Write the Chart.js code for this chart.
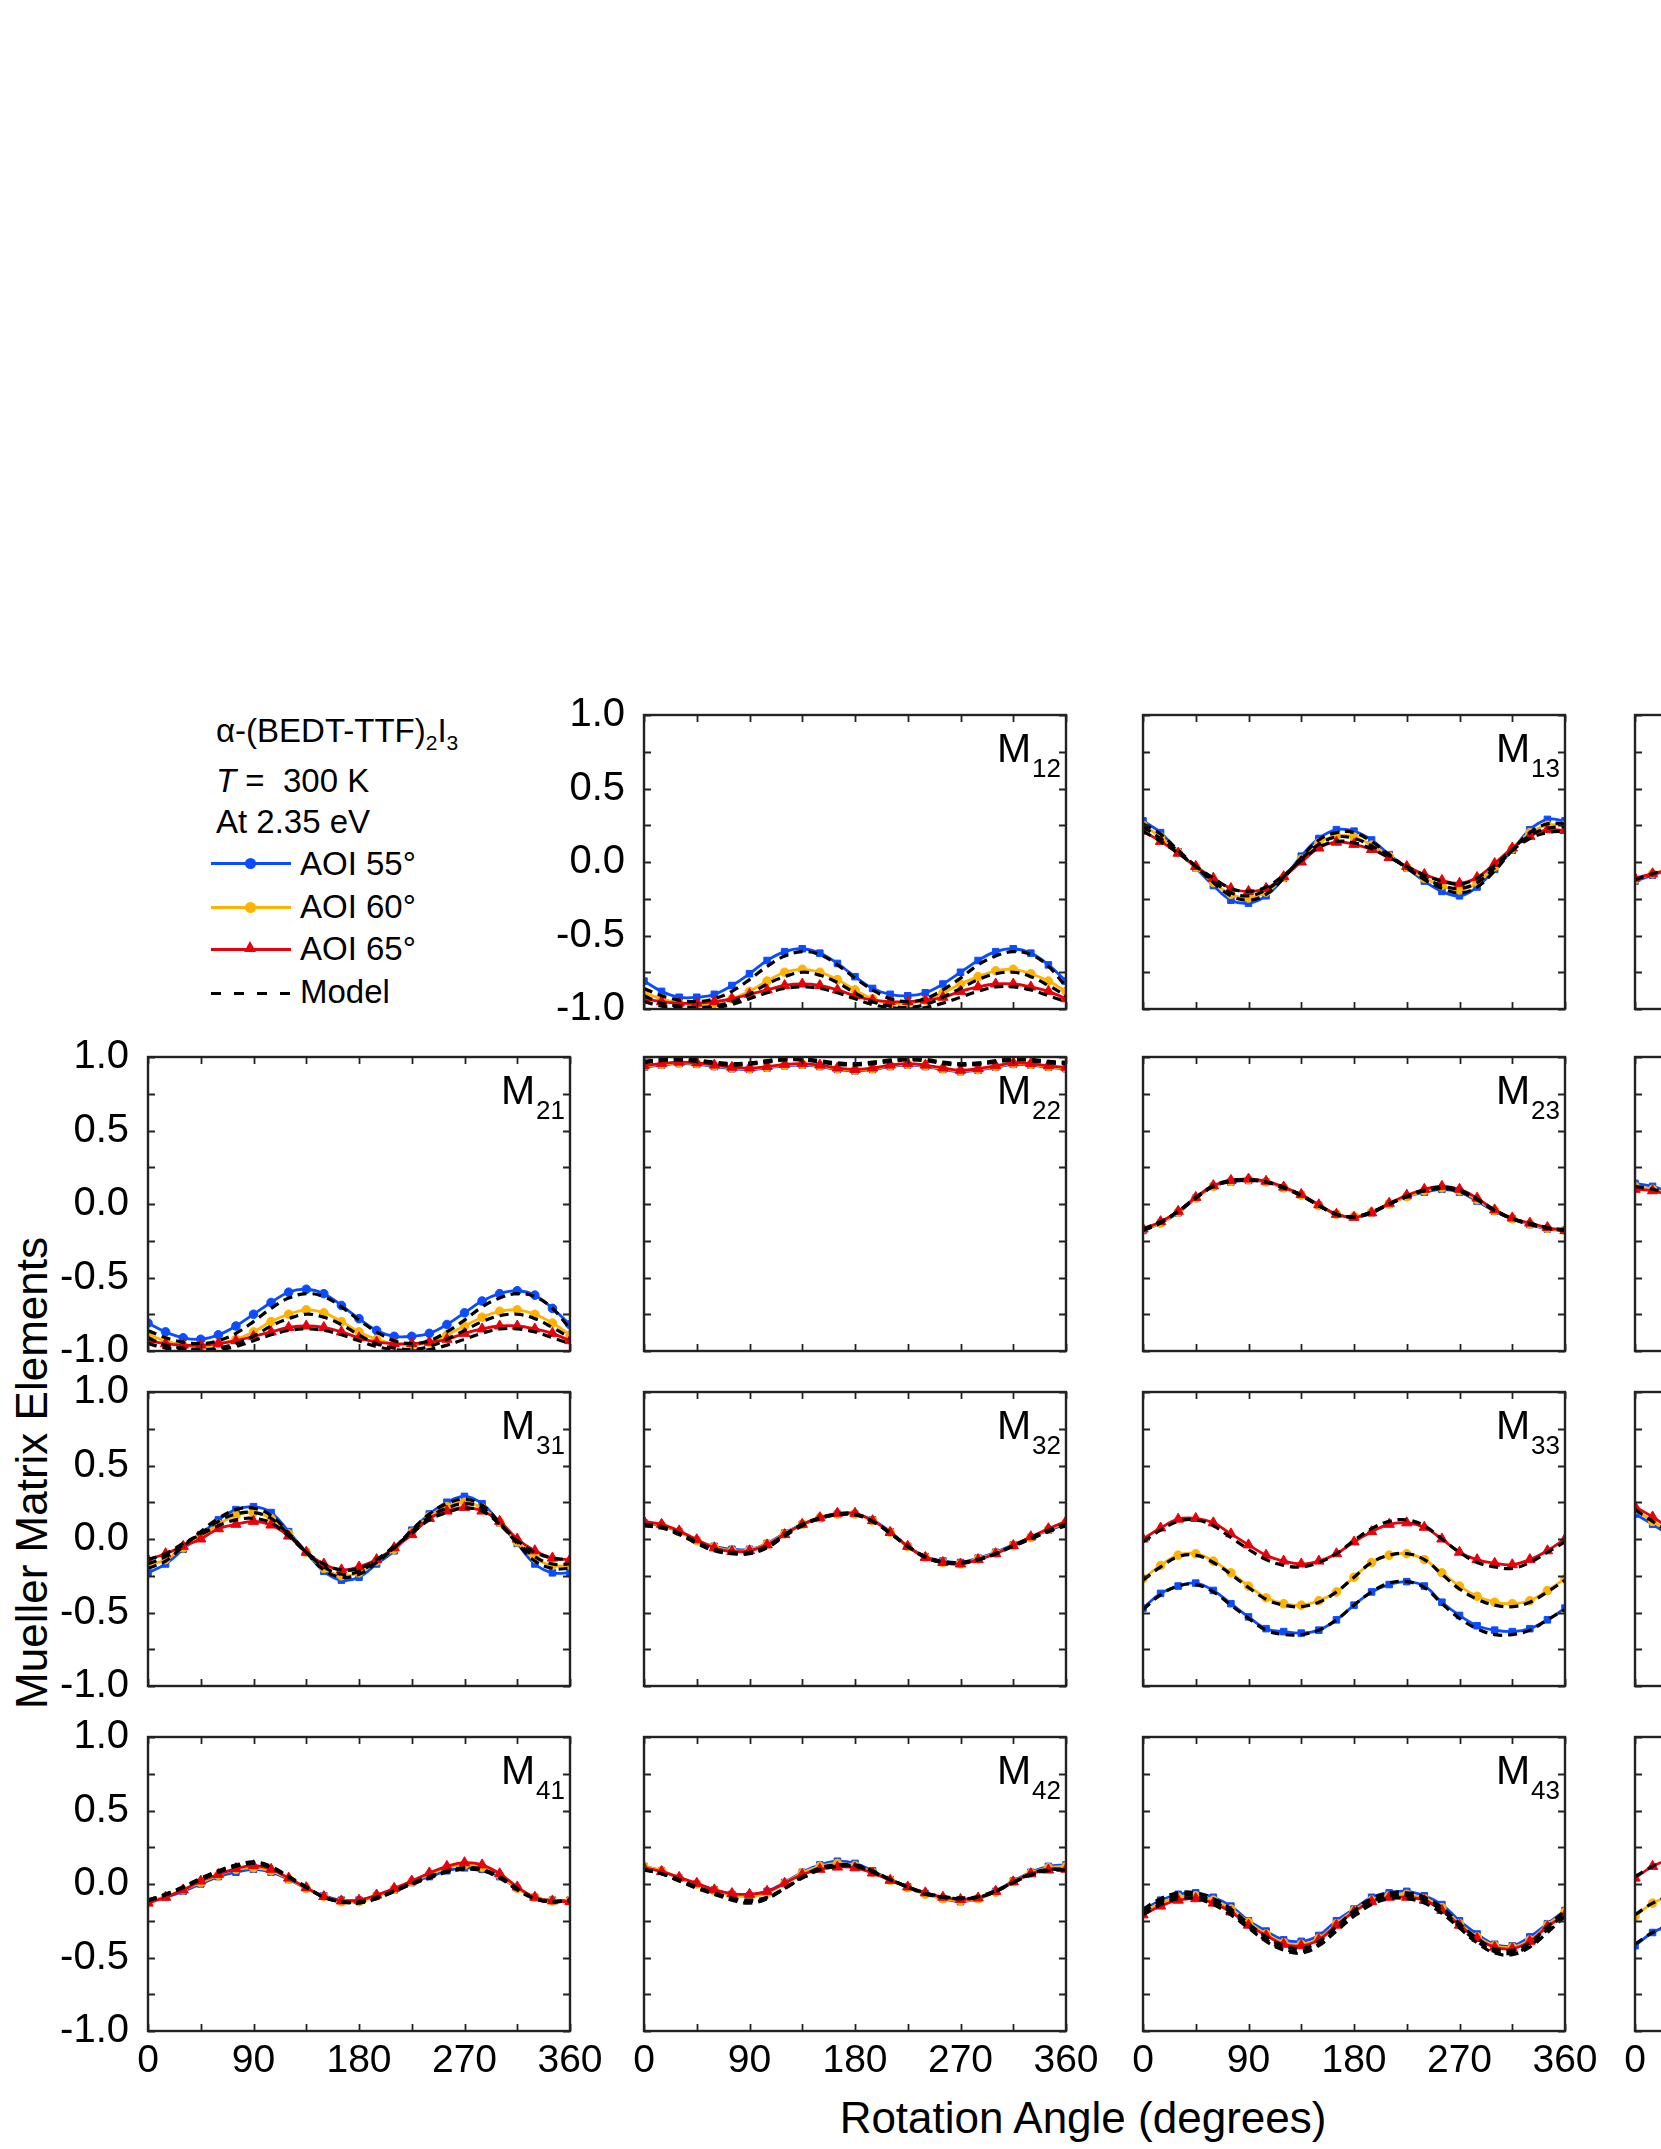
<!DOCTYPE html>
<html><head><meta charset="utf-8">
<script src="https://cdn.jsdelivr.net/npm/chart.js@4.4.1/dist/chart.umd.min.js"></script>
<style>
html,body{margin:0;padding:0;background:#fff;}
#root{position:relative;width:1661px;height:2149px;overflow:hidden;background:#fff;font-family:'Liberation Sans',Arial,sans-serif;color:#000;}
#root canvas{position:absolute;}
.t{position:absolute;white-space:nowrap;line-height:1;}
.sw{position:absolute;}
.sb{font-size:21px;position:relative;top:8px;}
</style></head>
<body><div id="root">
<div class="t" style="left:216px;top:714px;font-size:33px">α-(BEDT-TTF)<span class="sb">2</span>I<span class="sb">3</span></div>
<div class="t" style="left:216px;top:764px;font-size:33px"><i>T</i> =&nbsp; 300 K</div>
<div class="t" style="left:216px;top:805px;font-size:33px">At 2.35 eV</div>
<div class="sw" style="left:211px;top:862px;width:80px;height:3px;background:#0a4cff"></div>
<div class="sw" style="left:245px;top:858px;width:11px;height:11px;border-radius:50%;background:#0a4cff"></div>
<div class="t" style="left:300px;top:847px;font-size:33px">AOI 55°</div>
<div class="sw" style="left:211px;top:906px;width:80px;height:3px;background:#ffb300"></div>
<div class="sw" style="left:245px;top:902px;width:11px;height:11px;border-radius:50%;background:#ffb300"></div>
<div class="t" style="left:300px;top:890px;font-size:33px">AOI 60°</div>
<div class="sw" style="left:211px;top:948px;width:80px;height:3px;background:#e8000b"></div>
<div class="sw" style="left:244px;top:941px;width:0;height:0;border-left:6px solid transparent;border-right:6px solid transparent;border-bottom:11px solid #e8000b"></div>
<div class="t" style="left:300px;top:932px;font-size:33px">AOI 65°</div>
<div class="sw" style="left:211px;top:992px;width:80px;height:3px;background:repeating-linear-gradient(to right,#000 0 10px,transparent 10px 23px)"></div>
<div class="t" style="left:300px;top:975px;font-size:33px">Model</div>
<div class="t" style="left:32px;top:1473px;font-size:44px;transform:translate(-50%,-50%) rotate(-90deg)">Mueller Matrix Elements</div>
<div class="t" style="left:1083px;top:2096px;font-size:44px;transform:translateX(-50%)">Rotation Angle (degrees)</div>
</div>
<script>
// ---------- data ----------
const ANGLES = [0,15,30,45,60,75,90,105,120,135,150,165,180,195,210,225,240,255,270,285,300,315,330,345,360];
const ANGLES_EDGE = [0,15,30];
const Y_TICKS = [-1.0,-0.5,0.0,0.5,1.0];
const X_TICKS = [0,90,180,270,360];

const M12_55 = [-0.81,-0.88,-0.92,-0.92,-0.90,-0.84,-0.76,-0.67,-0.61,-0.59,-0.62,-0.69,-0.78,-0.86,-0.90,-0.91,-0.89,-0.83,-0.75,-0.67,-0.61,-0.59,-0.62,-0.70,-0.81];
const M12_60 = [-0.89,-0.93,-0.96,-0.97,-0.96,-0.93,-0.88,-0.81,-0.75,-0.73,-0.75,-0.80,-0.87,-0.93,-0.96,-0.96,-0.94,-0.89,-0.83,-0.78,-0.74,-0.73,-0.76,-0.81,-0.88];
const M12_65 = [-0.93,-0.95,-0.96,-0.96,-0.95,-0.93,-0.90,-0.87,-0.84,-0.83,-0.84,-0.87,-0.91,-0.94,-0.95,-0.95,-0.94,-0.92,-0.88,-0.85,-0.83,-0.83,-0.85,-0.88,-0.93];
const M12_mod55 = [-0.86,-0.91,-0.94,-0.95,-0.93,-0.88,-0.80,-0.71,-0.64,-0.61,-0.63,-0.70,-0.79,-0.87,-0.93,-0.95,-0.93,-0.87,-0.79,-0.70,-0.64,-0.61,-0.63,-0.71,-0.85];
const M12_mod60 = [-0.91,-0.96,-0.98,-0.99,-0.98,-0.95,-0.90,-0.83,-0.78,-0.75,-0.77,-0.82,-0.89,-0.95,-0.98,-0.99,-0.97,-0.92,-0.86,-0.80,-0.76,-0.75,-0.78,-0.84,-0.91];
const M12_mod65 = [-0.95,-0.98,-0.99,-1.00,-0.99,-0.97,-0.93,-0.89,-0.86,-0.85,-0.86,-0.89,-0.93,-0.97,-0.99,-1.00,-0.99,-0.96,-0.92,-0.88,-0.85,-0.85,-0.87,-0.91,-0.95];

const M13_55 = [0.28,0.20,0.07,-0.04,-0.16,-0.26,-0.28,-0.23,-0.11,0.04,0.16,0.22,0.21,0.15,0.05,-0.04,-0.13,-0.20,-0.23,-0.17,-0.05,0.08,0.22,0.29,0.28];
const M13_60 = [0.25,0.17,0.065,-0.035,-0.14,-0.22,-0.245,-0.205,-0.105,0.02,0.13,0.18,0.17,0.115,0.04,-0.035,-0.11,-0.16,-0.19,-0.14,-0.03,0.09,0.20,0.25,0.25];
const M13_65 = [0.21,0.14,0.06,-0.03,-0.11,-0.18,-0.20,-0.18,-0.10,0.00,0.095,0.135,0.12,0.085,0.03,-0.03,-0.085,-0.125,-0.145,-0.105,-0.01,0.095,0.175,0.22,0.215];
const M13_mod55 = [0.26,0.19,0.08,-0.03,-0.14,-0.23,-0.26,-0.22,-0.11,0.03,0.15,0.20,0.20,0.14,0.05,-0.04,-0.12,-0.18,-0.21,-0.17,-0.06,0.08,0.20,0.26,0.26];
const M13_mod60 = [0.24,0.16,0.07,-0.03,-0.13,-0.21,-0.23,-0.19,-0.10,0.02,0.12,0.17,0.16,0.11,0.04,-0.04,-0.11,-0.16,-0.18,-0.14,-0.04,0.08,0.18,0.23,0.24];
const M13_mod65 = [0.21,0.14,0.06,-0.03,-0.11,-0.18,-0.20,-0.17,-0.09,0.01,0.10,0.14,0.13,0.09,0.03,-0.03,-0.09,-0.13,-0.15,-0.11,-0.02,0.08,0.16,0.20,0.21];

const M14_55 = [-0.13,-0.09,-0.05];
const M14_60 = [-0.12,-0.08,-0.05];
const M14_65 = [-0.11,-0.08,-0.05];
const M14_mod = [-0.12,-0.08,-0.05];

const M21_55 = [-0.81,-0.87,-0.91,-0.92,-0.89,-0.83,-0.75,-0.67,-0.60,-0.58,-0.61,-0.69,-0.78,-0.86,-0.90,-0.90,-0.88,-0.82,-0.74,-0.66,-0.61,-0.59,-0.62,-0.71,-0.82];
const M21_60 = [-0.89,-0.93,-0.96,-0.97,-0.95,-0.92,-0.87,-0.80,-0.75,-0.72,-0.74,-0.80,-0.87,-0.92,-0.95,-0.96,-0.94,-0.89,-0.83,-0.77,-0.73,-0.72,-0.75,-0.81,-0.89];
const M21_65 = [-0.93,-0.95,-0.96,-0.96,-0.95,-0.93,-0.90,-0.87,-0.84,-0.83,-0.84,-0.87,-0.91,-0.94,-0.95,-0.95,-0.94,-0.92,-0.88,-0.85,-0.83,-0.83,-0.85,-0.88,-0.93];
const M21_mod55 = [-0.86,-0.91,-0.94,-0.95,-0.93,-0.88,-0.80,-0.71,-0.64,-0.61,-0.63,-0.70,-0.79,-0.87,-0.93,-0.95,-0.93,-0.87,-0.79,-0.70,-0.64,-0.61,-0.63,-0.71,-0.85];
const M21_mod60 = [-0.91,-0.96,-0.98,-0.99,-0.98,-0.95,-0.90,-0.83,-0.78,-0.75,-0.77,-0.82,-0.89,-0.95,-0.98,-0.99,-0.97,-0.92,-0.86,-0.80,-0.76,-0.75,-0.78,-0.84,-0.91];
const M21_mod65 = [-0.95,-0.98,-0.99,-1.00,-0.99,-0.97,-0.93,-0.89,-0.86,-0.85,-0.86,-0.89,-0.93,-0.97,-0.99,-1.00,-0.99,-0.96,-0.92,-0.88,-0.85,-0.85,-0.87,-0.91,-0.95];

const M22_55 = [0.93,0.945,0.955,0.95,0.935,0.92,0.915,0.925,0.94,0.945,0.935,0.915,0.905,0.915,0.935,0.945,0.935,0.915,0.90,0.91,0.93,0.95,0.945,0.93,0.92];
const M22_60 = [0.935,0.95,0.96,0.955,0.94,0.925,0.92,0.93,0.945,0.95,0.94,0.92,0.91,0.92,0.94,0.95,0.94,0.92,0.905,0.915,0.935,0.955,0.95,0.935,0.925];
const M22_65 = [0.94,0.955,0.965,0.96,0.945,0.93,0.925,0.935,0.95,0.955,0.945,0.925,0.915,0.925,0.945,0.955,0.945,0.925,0.91,0.92,0.94,0.96,0.955,0.94,0.93];
const M22_mod55 = [0.97,0.985,0.99,0.98,0.965,0.955,0.96,0.975,0.99,0.99,0.975,0.96,0.955,0.965,0.98,0.99,0.985,0.965,0.955,0.96,0.975,0.99,0.985,0.97,0.965];
const M22_mod60 = [0.965,0.98,0.985,0.975,0.96,0.95,0.955,0.97,0.985,0.985,0.97,0.955,0.95,0.96,0.975,0.985,0.98,0.96,0.95,0.955,0.97,0.985,0.98,0.965,0.96];
const M22_mod65 = [0.96,0.975,0.98,0.97,0.955,0.945,0.95,0.965,0.98,0.98,0.965,0.95,0.945,0.955,0.97,0.98,0.975,0.955,0.945,0.95,0.965,0.98,0.975,0.96,0.955];

const M23_55 = [-0.18,-0.13,-0.06,0.04,0.12,0.15,0.16,0.15,0.11,0.06,-0.01,-0.07,-0.09,-0.06,0.00,0.05,0.08,0.10,0.08,0.02,-0.05,-0.10,-0.14,-0.17,-0.18];
const M23_60 = [-0.17,-0.13,-0.055,0.04,0.12,0.155,0.165,0.15,0.11,0.06,-0.01,-0.07,-0.085,-0.055,0.00,0.05,0.09,0.11,0.09,0.03,-0.045,-0.10,-0.135,-0.165,-0.18];
const M23_65 = [-0.17,-0.12,-0.05,0.045,0.125,0.16,0.17,0.155,0.115,0.065,-0.005,-0.07,-0.09,-0.06,0.005,0.06,0.10,0.12,0.10,0.04,-0.04,-0.095,-0.13,-0.16,-0.18];
const M23_mod55 = [-0.18,-0.13,-0.05,0.04,0.12,0.155,0.16,0.15,0.11,0.055,-0.01,-0.07,-0.085,-0.055,0.00,0.05,0.09,0.105,0.085,0.03,-0.045,-0.10,-0.14,-0.165,-0.18];
const M23_mod60 = [-0.175,-0.125,-0.05,0.04,0.12,0.155,0.165,0.15,0.11,0.06,-0.01,-0.07,-0.085,-0.055,0.00,0.05,0.09,0.11,0.09,0.03,-0.045,-0.10,-0.135,-0.165,-0.18];
const M23_mod65 = [-0.17,-0.12,-0.05,0.045,0.125,0.16,0.165,0.15,0.115,0.06,-0.01,-0.07,-0.09,-0.06,0.00,0.055,0.095,0.115,0.095,0.035,-0.04,-0.10,-0.13,-0.16,-0.175];

const M24_55 = [0.14,0.12,0.08];
const M24_60 = [0.12,0.10,0.07];
const M24_65 = [0.10,0.09,0.06];
const M24_mod = [0.12,0.10,0.07];

const M31_55 = [-0.23,-0.17,-0.07,0.03,0.13,0.20,0.22,0.18,0.05,-0.09,-0.22,-0.28,-0.26,-0.17,-0.08,0.06,0.17,0.25,0.29,0.24,0.11,-0.03,-0.17,-0.23,-0.23];
const M31_60 = [-0.18,-0.14,-0.06,0.02,0.10,0.16,0.18,0.14,0.035,-0.09,-0.20,-0.25,-0.23,-0.15,-0.07,0.045,0.155,0.22,0.25,0.21,0.115,-0.02,-0.13,-0.18,-0.18];
const M31_65 = [-0.14,-0.10,-0.05,0.00,0.07,0.10,0.12,0.095,0.02,-0.09,-0.17,-0.21,-0.19,-0.14,-0.06,0.03,0.14,0.19,0.215,0.19,0.12,0.00,-0.08,-0.13,-0.14];
const M31_mod55 = [-0.20,-0.15,-0.05,0.05,0.14,0.20,0.21,0.16,0.04,-0.09,-0.21,-0.26,-0.24,-0.16,-0.06,0.06,0.17,0.24,0.27,0.23,0.11,-0.03,-0.15,-0.20,-0.20];
const M31_mod60 = [-0.17,-0.12,-0.04,0.04,0.12,0.17,0.18,0.14,0.03,-0.09,-0.19,-0.24,-0.22,-0.15,-0.06,0.05,0.15,0.21,0.24,0.21,0.10,-0.02,-0.12,-0.17,-0.17];
const M31_mod65 = [-0.14,-0.10,-0.03,0.03,0.09,0.13,0.14,0.11,0.02,-0.09,-0.17,-0.21,-0.20,-0.14,-0.05,0.04,0.13,0.18,0.21,0.19,0.10,-0.01,-0.09,-0.13,-0.14];

const M32_55 = [0.11,0.09,0.05,-0.01,-0.05,-0.07,-0.07,-0.03,0.04,0.10,0.14,0.17,0.17,0.13,0.05,-0.05,-0.12,-0.15,-0.16,-0.13,-0.09,-0.04,0.01,0.06,0.10];
const M32_60 = [0.11,0.095,0.05,-0.01,-0.055,-0.08,-0.075,-0.035,0.035,0.10,0.145,0.17,0.17,0.125,0.045,-0.05,-0.125,-0.16,-0.17,-0.135,-0.095,-0.045,0.01,0.065,0.11];
const M32_65 = [0.12,0.10,0.055,-0.005,-0.06,-0.085,-0.08,-0.04,0.03,0.10,0.145,0.175,0.175,0.125,0.045,-0.05,-0.125,-0.16,-0.17,-0.14,-0.10,-0.045,0.015,0.07,0.12];
const M32_mod55 = [0.09,0.075,0.03,-0.03,-0.08,-0.10,-0.10,-0.06,0.02,0.09,0.14,0.165,0.165,0.12,0.04,-0.05,-0.12,-0.155,-0.16,-0.14,-0.10,-0.05,0.00,0.05,0.09];
const M32_mod60 = [0.095,0.08,0.035,-0.025,-0.075,-0.095,-0.095,-0.055,0.025,0.095,0.14,0.165,0.165,0.12,0.04,-0.05,-0.12,-0.155,-0.16,-0.14,-0.10,-0.045,0.005,0.055,0.095];
const M32_mod65 = [0.10,0.085,0.04,-0.02,-0.07,-0.09,-0.09,-0.05,0.03,0.10,0.145,0.17,0.17,0.12,0.04,-0.05,-0.125,-0.16,-0.165,-0.14,-0.10,-0.045,0.01,0.06,0.10];

const M33_55 = [-0.47,-0.37,-0.32,-0.30,-0.35,-0.44,-0.53,-0.61,-0.63,-0.64,-0.62,-0.55,-0.45,-0.36,-0.31,-0.29,-0.32,-0.43,-0.52,-0.59,-0.62,-0.63,-0.61,-0.55,-0.47];
const M33_60 = [-0.27,-0.18,-0.11,-0.10,-0.15,-0.23,-0.32,-0.40,-0.44,-0.45,-0.42,-0.36,-0.26,-0.16,-0.11,-0.10,-0.14,-0.23,-0.32,-0.39,-0.43,-0.44,-0.42,-0.35,-0.27];
const M33_65 = [0.00,0.075,0.135,0.14,0.11,0.035,-0.04,-0.11,-0.15,-0.17,-0.15,-0.10,-0.02,0.05,0.10,0.11,0.08,0.00,-0.09,-0.14,-0.165,-0.175,-0.14,-0.08,0.00];
const M33_mod55 = [-0.48,-0.38,-0.32,-0.31,-0.36,-0.45,-0.54,-0.62,-0.65,-0.65,-0.62,-0.55,-0.45,-0.36,-0.30,-0.29,-0.33,-0.44,-0.54,-0.61,-0.65,-0.65,-0.62,-0.55,-0.48];
const M33_mod60 = [-0.28,-0.19,-0.12,-0.11,-0.16,-0.24,-0.33,-0.41,-0.45,-0.46,-0.43,-0.36,-0.26,-0.16,-0.11,-0.10,-0.14,-0.24,-0.34,-0.41,-0.45,-0.46,-0.43,-0.36,-0.28];
const M33_mod65 = [-0.02,0.06,0.12,0.13,0.09,0.01,-0.07,-0.14,-0.18,-0.19,-0.16,-0.10,-0.01,0.07,0.12,0.13,0.09,0.00,-0.09,-0.16,-0.19,-0.20,-0.16,-0.09,-0.02];

const M34_55 = [0.17,0.10,0.02];
const M34_60 = [0.20,0.12,0.04];
const M34_65 = [0.22,0.15,0.07];
const M34_mod = [0.20,0.12,0.04];

const M41_55 = [-0.12,-0.09,-0.05,0.00,0.05,0.08,0.10,0.08,0.03,-0.03,-0.08,-0.11,-0.11,-0.08,-0.04,0.01,0.05,0.09,0.11,0.10,0.05,-0.03,-0.09,-0.11,-0.11];
const M41_60 = [-0.12,-0.085,-0.04,0.01,0.06,0.10,0.11,0.09,0.035,-0.03,-0.085,-0.12,-0.12,-0.08,-0.035,0.015,0.065,0.11,0.13,0.115,0.06,-0.03,-0.09,-0.115,-0.115];
const M41_65 = [-0.13,-0.09,-0.04,0.02,0.065,0.105,0.125,0.10,0.04,-0.025,-0.085,-0.115,-0.11,-0.075,-0.03,0.02,0.075,0.12,0.145,0.13,0.07,-0.02,-0.09,-0.115,-0.12];
const M41_mod55 = [-0.11,-0.07,-0.02,0.04,0.09,0.13,0.15,0.12,0.05,-0.02,-0.09,-0.12,-0.13,-0.10,-0.05,0.00,0.04,0.08,0.10,0.09,0.04,-0.04,-0.10,-0.12,-0.11];
const M41_mod60 = [-0.11,-0.07,-0.02,0.035,0.085,0.125,0.145,0.115,0.05,-0.02,-0.09,-0.12,-0.125,-0.095,-0.05,0.00,0.045,0.085,0.105,0.095,0.045,-0.035,-0.10,-0.12,-0.11];
const M41_mod65 = [-0.115,-0.075,-0.025,0.03,0.08,0.12,0.14,0.11,0.045,-0.025,-0.09,-0.12,-0.12,-0.09,-0.045,0.005,0.05,0.09,0.11,0.10,0.05,-0.03,-0.10,-0.12,-0.115];

const M42_55 = [0.12,0.09,0.04,0.00,-0.04,-0.07,-0.08,-0.05,0.01,0.08,0.13,0.155,0.14,0.09,0.03,-0.02,-0.065,-0.10,-0.12,-0.10,-0.05,0.02,0.08,0.12,0.13];
const M42_60 = [0.12,0.09,0.04,0.00,-0.045,-0.075,-0.085,-0.06,0.005,0.075,0.12,0.14,0.125,0.08,0.025,-0.025,-0.07,-0.10,-0.115,-0.10,-0.055,0.015,0.075,0.11,0.12];
const M42_65 = [0.11,0.085,0.045,0.005,-0.04,-0.065,-0.07,-0.05,0.005,0.065,0.10,0.115,0.11,0.075,0.025,-0.02,-0.06,-0.09,-0.105,-0.095,-0.05,0.015,0.07,0.095,0.10];
const M42_mod55 = [0.10,0.07,0.02,-0.03,-0.07,-0.11,-0.13,-0.10,-0.03,0.05,0.11,0.13,0.13,0.09,0.03,-0.02,-0.07,-0.09,-0.10,-0.09,-0.05,0.01,0.07,0.10,0.10];
const M42_mod60 = [0.10,0.07,0.025,-0.025,-0.065,-0.10,-0.12,-0.095,-0.03,0.045,0.10,0.125,0.125,0.085,0.03,-0.02,-0.065,-0.09,-0.10,-0.09,-0.05,0.01,0.065,0.095,0.10];
const M42_mod65 = [0.095,0.07,0.03,-0.02,-0.06,-0.095,-0.11,-0.09,-0.03,0.04,0.095,0.12,0.12,0.08,0.03,-0.02,-0.06,-0.085,-0.095,-0.085,-0.045,0.01,0.06,0.09,0.095];

const M43_55 = [-0.18,-0.11,-0.07,-0.06,-0.09,-0.15,-0.25,-0.32,-0.38,-0.39,-0.35,-0.25,-0.17,-0.09,-0.06,-0.05,-0.08,-0.14,-0.25,-0.34,-0.41,-0.42,-0.36,-0.27,-0.18];
const M43_60 = [-0.19,-0.13,-0.09,-0.08,-0.11,-0.17,-0.26,-0.34,-0.40,-0.41,-0.37,-0.27,-0.18,-0.11,-0.08,-0.07,-0.10,-0.16,-0.27,-0.36,-0.42,-0.43,-0.38,-0.28,-0.19];
const M43_65 = [-0.21,-0.15,-0.11,-0.10,-0.13,-0.19,-0.28,-0.35,-0.41,-0.42,-0.38,-0.28,-0.19,-0.12,-0.09,-0.09,-0.11,-0.18,-0.28,-0.37,-0.43,-0.44,-0.39,-0.29,-0.21];
const M43_mod55 = [-0.17,-0.10,-0.06,-0.06,-0.10,-0.17,-0.27,-0.36,-0.42,-0.44,-0.39,-0.29,-0.18,-0.10,-0.06,-0.06,-0.09,-0.16,-0.27,-0.37,-0.44,-0.45,-0.40,-0.29,-0.18];
const M43_mod60 = [-0.19,-0.12,-0.08,-0.08,-0.12,-0.19,-0.29,-0.38,-0.44,-0.46,-0.41,-0.31,-0.20,-0.12,-0.08,-0.08,-0.11,-0.18,-0.29,-0.39,-0.46,-0.47,-0.42,-0.31,-0.20];
const M43_mod65 = [-0.21,-0.14,-0.10,-0.10,-0.14,-0.21,-0.30,-0.39,-0.45,-0.47,-0.42,-0.32,-0.22,-0.14,-0.10,-0.10,-0.13,-0.20,-0.30,-0.40,-0.47,-0.48,-0.43,-0.33,-0.22];

const M44_55 = [-0.42,-0.33,-0.28];
const M44_60 = [-0.22,-0.13,-0.08];
const M44_65 = [0.04,0.12,0.17];
const M44_mod55 = [-0.41,-0.33,-0.28];
const M44_mod60 = [-0.21,-0.13,-0.08];
const M44_mod65 = [0.05,0.12,0.17];

// ---------- layout / style ----------
const BLUE = '#0a4cff', YELLOW = '#ffb300', RED = '#e8000b';
const FONT = "'Liberation Sans', Arial, sans-serif";
const COL_LEFT = [148, 644, 1143, 1635];
const ROW_TOP = [715, 1057, 1392, 1737];
const PW = 422, PH = 294;
const YW = 110, PT = 30, PR = 45, XH = 70;

const PANELS = [
  {name:'12', r:0, c:1, ang:ANGLES, d:[M12_55,M12_60,M12_65], m:[M12_mod55,M12_mod60,M12_mod65], blue:'rect', ylab:true},
  {name:'13', r:0, c:2, ang:ANGLES, d:[M13_55,M13_60,M13_65], m:[M13_mod55,M13_mod60,M13_mod65], blue:'rect'},
  {name:'14', r:0, c:3, ang:ANGLES_EDGE, d:[M14_55,M14_60,M14_65], m:[M14_mod], blue:'rect'},
  {name:'21', r:1, c:0, ang:ANGLES, d:[M21_55,M21_60,M21_65], m:[M21_mod55,M21_mod60,M21_mod65], blue:'circle', ylab:true},
  {name:'22', r:1, c:1, ang:ANGLES, d:[M22_55,M22_60,M22_65], m:[M22_mod55,M22_mod60,M22_mod65], blue:'rect'},
  {name:'23', r:1, c:2, ang:ANGLES, d:[M23_55,M23_60,M23_65], m:[M23_mod55,M23_mod60,M23_mod65], blue:'rect'},
  {name:'24', r:1, c:3, ang:ANGLES_EDGE, d:[M24_55,M24_60,M24_65], m:[M24_mod], blue:'rect'},
  {name:'31', r:2, c:0, ang:ANGLES, d:[M31_55,M31_60,M31_65], m:[M31_mod55,M31_mod60,M31_mod65], blue:'rect', ylab:true},
  {name:'32', r:2, c:1, ang:ANGLES, d:[M32_55,M32_60,M32_65], m:[M32_mod55,M32_mod60,M32_mod65], blue:'rect'},
  {name:'33', r:2, c:2, ang:ANGLES, d:[M33_55,M33_60,M33_65], m:[M33_mod55,M33_mod60,M33_mod65], blue:'rect'},
  {name:'34', r:2, c:3, ang:ANGLES_EDGE, d:[M34_55,M34_60,M34_65], m:[M34_mod], blue:'rect'},
  {name:'41', r:3, c:0, ang:ANGLES, d:[M41_55,M41_60,M41_65], m:[M41_mod55,M41_mod60,M41_mod65], blue:'rect', ylab:true},
  {name:'42', r:3, c:1, ang:ANGLES, d:[M42_55,M42_60,M42_65], m:[M42_mod55,M42_mod60,M42_mod65], blue:'rect'},
  {name:'43', r:3, c:2, ang:ANGLES, d:[M43_55,M43_60,M43_65], m:[M43_mod55,M43_mod60,M43_mod65], blue:'rect'},
  {name:'44', r:3, c:3, ang:ANGLES_EDGE, d:[M44_55,M44_60,M44_65], m:[M44_mod55,M44_mod60,M44_mod65], blue:'rect'}
];

const TICK = 7;
const framePlugin = {
  id: 'frame',
  afterDraw(chart, args, opts) {
    const {ctx, chartArea: a} = chart;
    const xs = chart.scales.x, ys = chart.scales.y;
    ctx.save();
    ctx.strokeStyle = '#222';
    ctx.lineWidth = 1.8;
    ctx.beginPath();
    for (let v = 0; v <= 360; v += 45) {
      const px = Math.round(xs.getPixelForValue(v)) + 0.5;
      ctx.moveTo(px, a.bottom); ctx.lineTo(px, a.bottom - TICK);
      ctx.moveTo(px, a.top); ctx.lineTo(px, a.top + TICK);
    }
    for (let k = 0; k <= 8; k++) {
      const v = -1 + k * 0.25;
      const py = Math.round(ys.getPixelForValue(v)) + 0.5;
      ctx.moveTo(a.left, py); ctx.lineTo(a.left + TICK, py);
      ctx.moveTo(a.right, py); ctx.lineTo(a.right - TICK, py);
    }
    ctx.stroke();
    ctx.lineWidth = 2.4;
    ctx.strokeRect(a.left, a.top, a.right - a.left, a.bottom - a.top);
    // panel name
    ctx.fillStyle = '#000';
    ctx.textBaseline = 'alphabetic';
    ctx.font = '26px ' + FONT;
    const sub = opts.name || '';
    const ws = ctx.measureText(sub).width;
    ctx.textAlign = 'left';
    const subX = a.right - 5 - ws;
    ctx.fillText(sub, subX, a.top + 62);
    ctx.font = '41px ' + FONT;
    const wm = ctx.measureText('M').width;
    ctx.fillText('M', subX - wm - 1, a.top + 47);
    ctx.restore();
  }
};

function pts(ang, arr) { return arr.map((v, i) => ({x: ang[i], y: v})); }

const root = document.getElementById('root');
PANELS.forEach(p => {
  const W = YW + PW + PR, H = PT + PH + XH;
  const cv = document.createElement('canvas');
  cv.width = W; cv.height = H;
  cv.style.width = W + 'px'; cv.style.height = H + 'px';
  cv.style.left = (COL_LEFT[p.c] - YW) + 'px';
  cv.style.top = (ROW_TOP[p.r] - PT) + 'px';
  root.appendChild(cv);
  const bottomRow = p.r === 3;
  const datasets = [];
  p.m.forEach((arr, i) => datasets.push({
    label: 'Model', data: pts(p.ang, arr), borderColor: '#000', borderWidth: 3.2,
    borderDash: [9, 6], pointRadius: 0, tension: 0.4, order: 0
  }));
  const styles = [
    {c: BLUE, s: p.blue, r: p.blue === 'rect' ? 4.6 : 4.3, o: 3, l: 'AOI 55°'},
    {c: YELLOW, s: 'circle', r: 4.3, o: 2, l: 'AOI 60°'},
    {c: RED, s: 'triangle', r: 6, o: 1, l: 'AOI 65°'}
  ];
  p.d.forEach((arr, i) => datasets.push({
    label: styles[i].l, data: pts(p.ang, arr), borderColor: styles[i].c, backgroundColor: styles[i].c,
    pointBackgroundColor: styles[i].c, pointBorderColor: styles[i].c, pointBorderWidth: 1,
    pointStyle: styles[i].s, pointRadius: styles[i].r, borderWidth: 2.8, tension: 0.4, order: styles[i].o
  }));
  new Chart(cv, {
    type: 'line',
    data: {datasets},
    options: {
      responsive: false, animation: false, devicePixelRatio: 1,
      layout: {padding: {top: PT, right: PR, left: 0, bottom: 0}, autoPadding: false},
      plugins: {legend: {display: false}, tooltip: {enabled: false}, frame: {name: p.name}},
      scales: {
        x: {
          type: 'linear', min: 0, max: 360,
          afterFit: s => { s.height = XH; s.paddingLeft = 0; s.paddingRight = 0; },
          afterBuildTicks: s => { s.ticks = X_TICKS.map(v => ({value: v})); },
          grid: {display: false, drawTicks: false}, border: {display: false},
          ticks: {display: bottomRow, color: '#000', font: {size: 39, family: FONT}, padding: 7,
                  maxRotation: 0, autoSkip: false, callback: v => String(v)}
        },
        y: {
          type: 'linear', min: -1, max: 1,
          afterFit: s => { s.width = YW; s.paddingTop = 0; s.paddingBottom = 0; },
          afterBuildTicks: s => { s.ticks = Y_TICKS.map(v => ({value: v})); },
          grid: {display: false, drawTicks: false}, border: {display: false},
          ticks: {display: !!p.ylab, color: '#000', font: {size: 40, family: FONT}, padding: 19,
                  callback: v => Number(v).toFixed(1)}
        }
      }
    },
    plugins: [framePlugin]
  });
});
</script>
</body></html>
